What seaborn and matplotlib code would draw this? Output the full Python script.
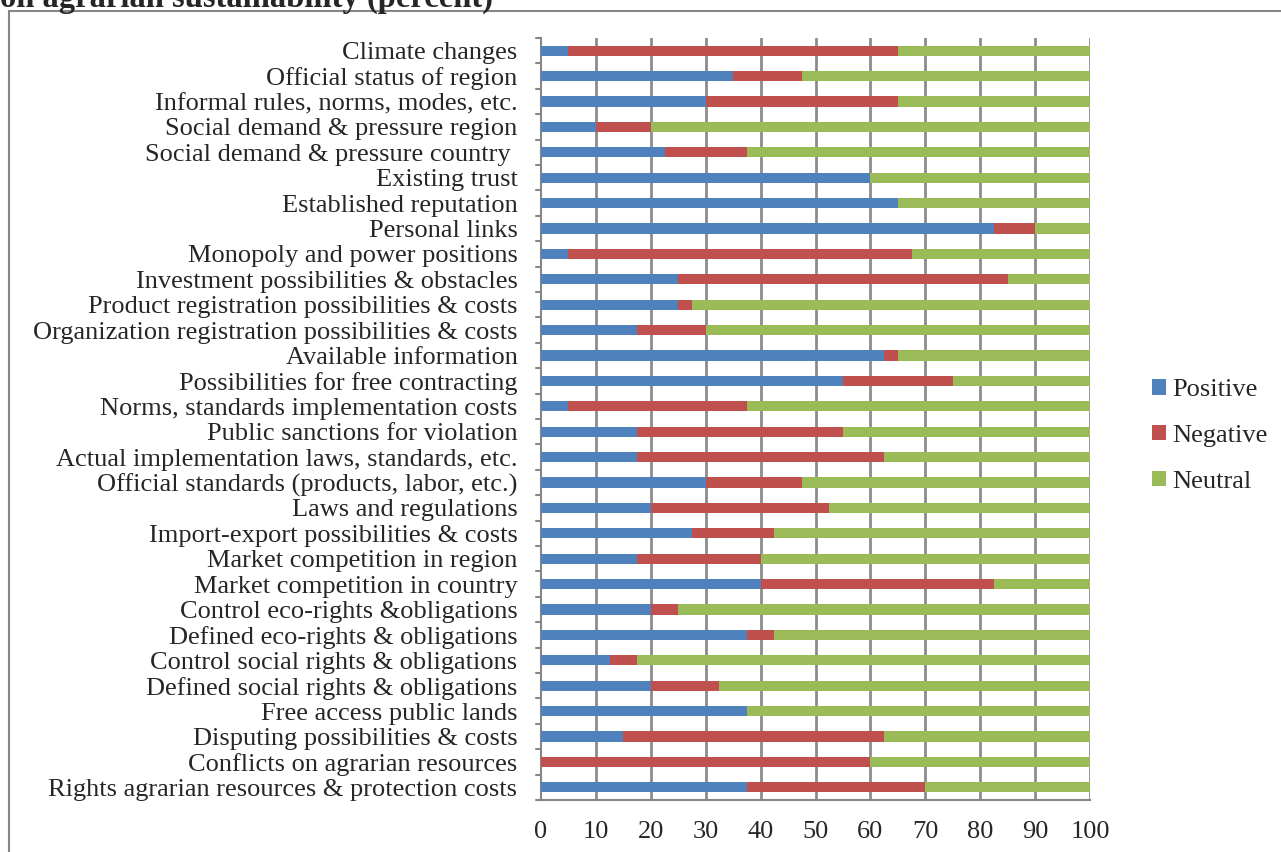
import matplotlib
matplotlib.use("Agg")
import matplotlib.pyplot as plt
import seaborn as sns
import pandas as pd
from matplotlib.patches import Rectangle, Patch

factors = [
    "Climate changes",
    "Official status of region",
    "Informal rules, norms, modes, etc.",
    "Social demand & pressure region",
    "Social demand & pressure country ",
    "Existing trust",
    "Established reputation",
    "Personal links",
    "Monopoly and power positions",
    "Investment possibilities & obstacles",
    "Product registration possibilities & costs",
    "Organization registration possibilities & costs",
    "Available information",
    "Possibilities for free contracting",
    "Norms, standards implementation costs",
    "Public sanctions for violation",
    "Actual implementation laws, standards, etc.",
    "Official standards (products, labor, etc.)",
    "Laws and regulations",
    "Import-export possibilities & costs",
    "Market competition in region",
    "Market competition in country",
    "Control eco-rights &obligations",
    "Defined eco-rights & obligations",
    "Control social rights & obligations",
    "Defined social rights & obligations",
    "Free access public lands",
    "Disputing possibilities & costs",
    "Conflicts on agrarian resources",
    "Rights agrarian resources & protection costs",
]

positive = [5, 35, 30, 10, 22.5, 60, 65, 82.5, 5, 25, 25, 17.5, 62.5, 55, 5,
            17.5, 17.5, 30, 20, 27.5, 17.5, 40, 20, 37.5, 12.5, 20, 37.5, 15, 0, 37.5]
negative = [60, 12.5, 35, 10, 15, 0, 0, 7.5, 62.5, 60, 2.5, 12.5, 2.5, 20, 32.5,
            37.5, 45, 17.5, 32.5, 15, 22.5, 42.5, 5, 5, 5, 12.5, 0, 47.5, 60, 32.5]
neutral = [35, 52.5, 35, 80, 62.5, 40, 35, 10, 32.5, 15, 72.5, 70, 35, 25, 62.5,
           45, 37.5, 52.5, 47.5, 57.5, 60, 17.5, 75, 57.5, 82.5, 67.5, 62.5, 37.5, 40, 30]

series = ["Positive", "Negative", "Neutral"]
colors = ["#4F81BD", "#C0504D", "#9BBB59"]
x_ticks = [0, 10, 20, 30, 40, 50, 60, 70, 80, 90, 100]

df = pd.DataFrame({"factor": factors, "Positive": positive,
                   "Negative": negative, "Neutral": neutral})
df["cum_pos"] = df["Positive"]
df["cum_neg"] = df["Positive"] + df["Negative"]
df["cum_neu"] = df["cum_neg"] + df["Neutral"]

sns.set_style("white")
plt.rcParams["font.family"] = ["Liberation Serif", "DejaVu Serif"]

fig = plt.figure(figsize=(12.81, 8.52), dpi=100)
ax = fig.add_axes([541 / 1281, 1 - 800 / 852, 549 / 1281, 762 / 852])

# stacked horizontal bars, drawn as overlapping cumulative totals
for col, color in zip(["cum_neu", "cum_neg", "cum_pos"], colors[::-1]):
    sns.barplot(data=df, y="factor", x=col, orient="h", color=color,
                width=0.4, saturation=1, ax=ax, linewidth=0, zorder=3)

ax.set_xlim(0, 100)
ax.set_ylim(len(factors) - 0.5, -0.5)
ax.set_xticks(x_ticks)
ax.set_xticklabels([str(t) for t in x_ticks], fontsize=19)
ax.set_xlabel("")
ax.set_ylabel("")
ax.tick_params(axis="y", labelsize=19, length=0, pad=17)
ax.tick_params(axis="x", direction="inout", length=8, width=1.2,
               color="#868686", pad=11)

# vertical gridlines
for t in x_ticks[1:]:
    ax.axvline(t, color="#8c8c8c", lw=2.0, zorder=1)

# category boundary tick marks on the value axis
for i in range(len(factors) + 1):
    ax.plot([-1.0, 0], [i - 0.5, i - 0.5], color="#868686", lw=1.5,
            clip_on=False, zorder=4)

for side in ["top", "right"]:
    ax.spines[side].set_visible(False)
for side in ["left", "bottom"]:
    ax.spines[side].set_color("#868686")
    ax.spines[side].set_linewidth(1.5)

handles = [Patch(facecolor=c, edgecolor="none", label=s) for s, c in zip(series, colors)]
fig.legend(handles=handles, loc="center left", bbox_to_anchor=(1128 / 1281, 1 - 436 / 852),
           frameon=False, fontsize=19, handlelength=0.53, handleheight=0.53,
           handletextpad=0.23, labelspacing=0.9)

# outer chart frame
fig.patches.append(Rectangle((9 / 1281, -0.05), 1.2, 1 - 11 / 852 + 0.05,
                             transform=fig.transFigure, fill=False,
                             edgecolor="#868686", lw=1.5))

fig.text(0.0, 1 - 7 / 852, "on agrarian sustainability (percent)", fontsize=23.5,
         fontweight="bold", ha="left", va="baseline")

fig.savefig("out.png", dpi=100)
